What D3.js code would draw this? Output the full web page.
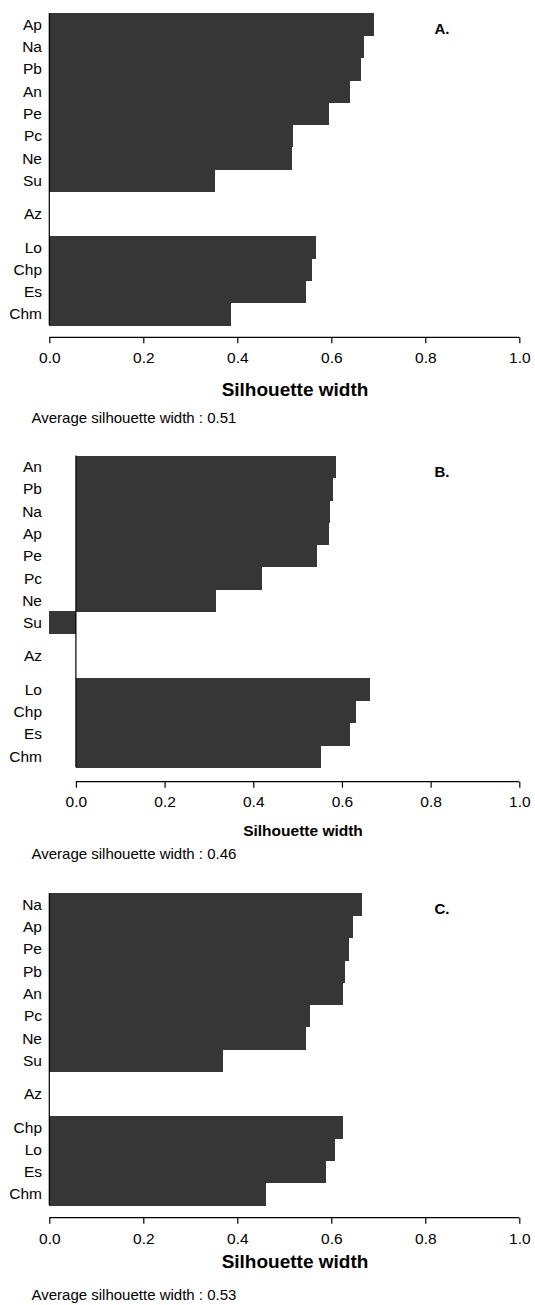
<!DOCTYPE html>
<html>
<head>
<meta charset="utf-8">
<script src="https://cdn.jsdelivr.net/npm/d3@7"></script>
<style>
  body { margin: 0; background: #fff; }
  svg { display: block; font-family: "Liberation Sans", Arial, Helvetica, sans-serif; }
</style>
</head>
<body>
<svg id="chart" width="535" height="1305"></svg>
<script>
// datos
let labelsA = ["Ap", "Na", "Pb", "An", "Pe", "Pc", "Ne", "Su", "Az", "Lo", "Chp", "Es", "Chm"];
let valuesA = [0.690, 0.669, 0.664, 0.639, 0.595, 0.519, 0.516, 0.352, 0, 0.568, 0.559, 0.546, 0.387];

let labelsB = ["An", "Pb", "Na", "Ap", "Pe", "Pc", "Ne", "Su", "Az", "Lo", "Chp", "Es", "Chm"];
let valuesB = [0.586, 0.580, 0.573, 0.571, 0.543, 0.420, 0.317, -0.060, 0, 0.664, 0.632, 0.619, 0.553];

let labelsC = ["Na", "Ap", "Pe", "Pb", "An", "Pc", "Ne", "Su", "Az", "Chp", "Lo", "Es", "Chm"];
let valuesC = [0.666, 0.647, 0.637, 0.629, 0.624, 0.555, 0.547, 0.369, 0, 0.625, 0.608, 0.588, 0.461];

// cluster de cada fila (igual en los tres)
let clusters = [1, 1, 1, 1, 1, 1, 1, 1, 2, 3, 3, 3, 3];

let xTicks = [0, 0.2, 0.4, 0.6, 0.8, 1.0];
let panelLetters = ["A.", "B.", "C."];
let averages = ["0.51", "0.46", "0.53"];

let svg = d3.select("#chart");

function drawPanel(labels, values, opts) {
    let g = svg.append("g");

    let xMin = Math.min(0, d3.min(values));
    let xScale = d3.scaleLinear()
        .domain([xMin, 1])
        .range([49.3, 519.3]);

    // filas con medio espacio entre clusters
    let pos = [];
    let u = 0;
    clusters.forEach((c, i) => {
        if (i > 0 && c != clusters[i - 1]) u += 0.5;
        pos.push(u);
        u += 1;
    });
    let yScale = d3.scaleLinear().domain([0, u]).range([opts.top, opts.bottom]);

    g.selectAll("rect.bar")
        .data(values)
        .enter()
        .append("rect")
        .attr("class", "bar")
        .attr("x", d => xScale(Math.min(0, d)))
        .attr("width", d => Math.abs(xScale(d) - xScale(0)))
        .attr("y", (d, i) => yScale(pos[i]))
        .attr("height", (d, i) => yScale(pos[i] + 1) - yScale(pos[i]) + 0.5)
        .attr("shape-rendering", "crispEdges")
        .style("fill", "#363636");

    // linea del cero
    g.append("line")
        .attr("x1", xScale(0)).attr("x2", xScale(0))
        .attr("y1", opts.top).attr("y2", opts.bottom)
        .style("stroke", "#000")
        .style("stroke-width", 1.2);

    g.selectAll("text.lab")
        .data(labels)
        .enter()
        .append("text")
        .attr("class", "lab")
        .attr("x", 42)
        .attr("y", (d, i) => yScale(pos[i] + 0.5) + 5.5)
        .attr("text-anchor", "end")
        .style("font-size", "15.5px")
        .text(d => d);

    let xAxis = d3.axisBottom(xScale)
        .tickValues(xTicks)
        .tickFormat(d3.format(".1f"))
        .tickSize(6)
        .tickPadding(opts.pad);

    let axisGroup = g.append("g")
        .attr("transform", `translate(0, ${opts.axisY})`)
        .call(xAxis);
    axisGroup.select(".domain").remove();
    axisGroup.selectAll("line").style("stroke", "#000").style("stroke-width", 1.2);
    axisGroup.selectAll("text")
        .style("font-size", "15.5px")
        .style("font-family", "Liberation Sans, Arial, sans-serif")
        .style("fill", "#000");
    axisGroup.append("line")
        .attr("x1", xScale(0)).attr("x2", xScale(1))
        .style("stroke", "#000")
        .style("stroke-width", 1.2);

    g.append("text")
        .attr("x", opts.titleX)
        .attr("y", opts.titleY)
        .attr("text-anchor", "middle")
        .style("font-weight", "bold")
        .style("font-size", opts.titleSize + "px")
        .text("Silhouette width");

    g.append("text")
        .attr("x", 31.5)
        .attr("y", opts.avgY)
        .style("font-size", "15px")
        .text("Average silhouette width : " + opts.avg);

    g.append("text")
        .attr("x", 434.5)
        .attr("y", opts.top + 21)
        .style("font-weight", "bold")
        .style("font-size", "15px")
        .text(opts.letter);
}

drawPanel(labelsA, valuesA, {
    top: 13.3, bottom: 325, axisY: 337.3, pad: 9,
    titleX: 295, titleY: 395.8, titleSize: 19,
    avgY: 422.5, avg: averages[0], letter: panelLetters[0]
});

drawPanel(labelsB, valuesB, {
    top: 455.6, bottom: 767.3, axisY: 781.7, pad: 8,
    titleX: 303, titleY: 836, titleSize: 15.5,
    avgY: 858.5, avg: averages[1], letter: panelLetters[1]
});

drawPanel(labelsC, valuesC, {
    top: 893.3, bottom: 1205, axisY: 1217.7, pad: 9,
    titleX: 295, titleY: 1267.5, titleSize: 19,
    avgY: 1300.2, avg: averages[2], letter: panelLetters[2]
});
</script>
</body>
</html>
